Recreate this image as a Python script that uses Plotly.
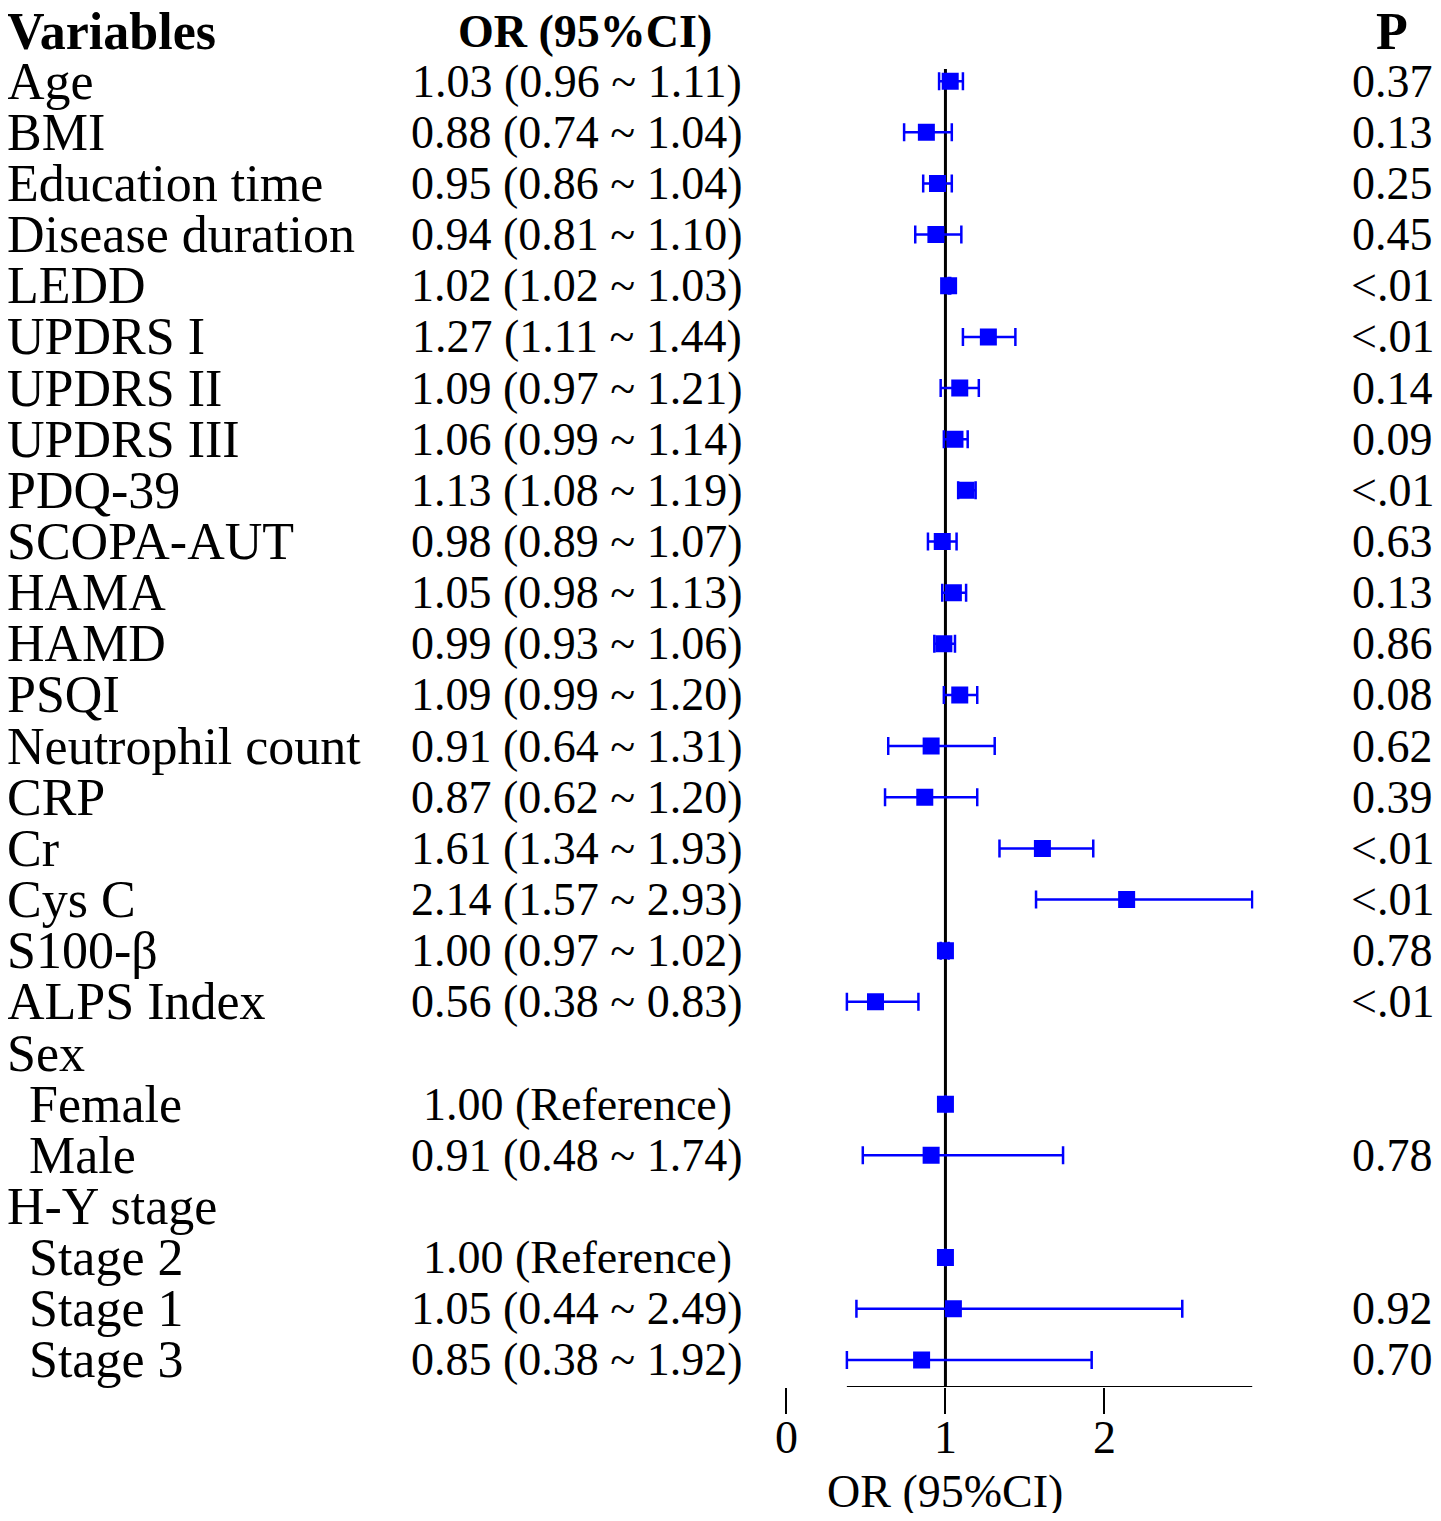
import plotly.graph_objects as go

# ---- data ----
labels = ["Age", "BMI", "Education time", "Disease duration", "LEDD", "UPDRS I",
          "UPDRS II", "UPDRS III", "PDQ-39", "SCOPA-AUT", "HAMA", "HAMD", "PSQI",
          "Neutrophil count", "CRP", "Cr", "Cys C", "S100-β", "ALPS Index",
          "Sex", "Female", "Male", "H-Y stage", "Stage 2", "Stage 1", "Stage 3"]
indent = [False]*19 + [False, True, True, False, True, True, True]
or_val = [1.03, 0.88, 0.95, 0.94, 1.02, 1.27, 1.09, 1.06, 1.13, 0.98, 1.05, 0.99, 1.09,
          0.91, 0.87, 1.61, 2.14, 1.00, 0.56,
          None, 1.00, 0.91, None, 1.00, 1.05, 0.85]
ci_low = [0.96, 0.74, 0.86, 0.81, 1.02, 1.11, 0.97, 0.99, 1.08, 0.89, 0.98, 0.93, 0.99,
          0.64, 0.62, 1.34, 1.57, 0.97, 0.38,
          None, None, 0.48, None, None, 0.44, 0.38]
ci_high = [1.11, 1.04, 1.04, 1.10, 1.03, 1.44, 1.21, 1.14, 1.19, 1.07, 1.13, 1.06, 1.20,
           1.31, 1.20, 1.93, 2.93, 1.02, 0.83,
           None, None, 1.74, None, None, 2.49, 1.92]
p_text = ["0.37", "0.13", "0.25", "0.45", "<.01", "<.01", "0.14", "0.09", "<.01", "0.63",
          "0.13", "0.86", "0.08", "0.62", "0.39", "<.01", "<.01", "0.78", "<.01",
          "", "", "0.78", "", "", "0.92", "0.70"]
xticks = [0, 1, 2]

OFF = 8                      # browser body margin
W, H = 1441 - 2 * OFF, 1521 - 2 * OFF
FONT = "Liberation Serif"
FS_LAB = 52
FS_NUM = 46
BLUE = "#0000FF"

XSH = -4             # horizontal correction for plot elements
TSH = -15            # horizontal correction for left-anchored texts
CSH = -8             # horizontal correction for OR column

ROW0 = 30.0 - OFF    # header pixel y (figure coords)
STEP = 51.15         # row spacing in px
AXIS_PX = 1387 - OFF # x-axis line pixel y
X0_PX = 785 - OFF + XSH
PX_PER = 160.3
X_END_PX = 1256 - OFF + XSH

k_top = -ROW0 / STEP
k_bot = (AXIS_PX - ROW0) / STEP

rows = list(range(1, len(labels) + 1))

fig = go.Figure()

xs, ys, ep, em = [], [], [], []
for r, o, lo, hi in zip(rows, or_val, ci_low, ci_high):
    if o is None:
        continue
    xs.append(o)
    ys.append(r)
    ep.append((hi - o) if hi is not None else 0)
    em.append((o - lo) if lo is not None else 0)

fig.add_trace(go.Scatter(
    x=xs, y=ys, mode="markers",
    marker=dict(symbol="square", size=17, color=BLUE),
    error_x=dict(type="data", symmetric=False, array=ep, arrayminus=em,
                 color=BLUE, thickness=2.5, width=9),
    showlegend=False, hoverinfo="skip"))

fig.add_shape(type="line", xref="x", yref="y", x0=1, x1=1,
              y0=(69 - OFF - ROW0) / STEP, y1=k_bot,
              line=dict(color="black", width=3), layer="below")
lo_all = min(v for v in ci_low if v is not None)
hi_all = max(v for v in ci_high if v is not None)
fig.add_shape(type="line", xref="x", yref="y", x0=lo_all, x1=hi_all,
              y0=k_bot, y1=k_bot, line=dict(color="black", width=2))

def ann(text, xpx, row, anchor, size, bold=False):
    t = f"<b>{text}</b>" if bold else text
    fig.add_annotation(text=t, x=(xpx - OFF) / W, xref="paper", y=row, yref="y",
                       xanchor=anchor, yanchor="middle", showarrow=False,
                       font=dict(family=FONT, size=size, color="black"))

ann("Variables", 8 + TSH, 0.03, "left", FS_LAB, bold=True)
ann("OR (95%CI)", 578, 0.03, "center", FS_NUM, bold=True)
ann("P", 1392, 0.03, "center", FS_LAB, bold=True)

for r, lab, ind, o, lo, hi, p in zip(rows, labels, indent, or_val, ci_low, ci_high, p_text):
    ann(lab, (30 if ind else 8) + TSH, r, "left", FS_LAB)
    if o is not None:
        if lo is None:
            s = f"{o:.2f} (Reference)"
        else:
            s = f"{o:.2f} ({lo:.2f} ~ {hi:.2f})"
        ann(s, 578 + CSH, r, "center", FS_NUM)
    if p:
        ann(p, 1392, r, "center", FS_NUM)

fig.add_annotation(text="OR (95%CI)", x=1, xref="x", y=1 - (1491 - OFF) / H, yref="paper",
                   xanchor="center", yanchor="middle", showarrow=False,
                   font=dict(family=FONT, size=FS_NUM, color="black"))

fig.update_layout(
    width=W, height=H, margin=dict(l=0, r=0, t=0, b=0),
    plot_bgcolor="white", paper_bgcolor="white",
    xaxis=dict(domain=[X0_PX / W, X_END_PX / W],
               range=[0, (X_END_PX - X0_PX) / PX_PER],
               showgrid=False, zeroline=False, showline=False,
               ticks="outside", ticklen=26, tickwidth=2, tickcolor="black",
               ticklabelstandoff=-16,
               tickvals=xticks, ticktext=[str(t) for t in xticks],
               tickfont=dict(family=FONT, size=FS_NUM, color="black")),
    yaxis=dict(domain=[(H - AXIS_PX) / H, 1], range=[k_bot, k_top],
               showgrid=False, zeroline=False, showline=False,
               showticklabels=False, ticks=""),
)

fig.write_html("out.html")
